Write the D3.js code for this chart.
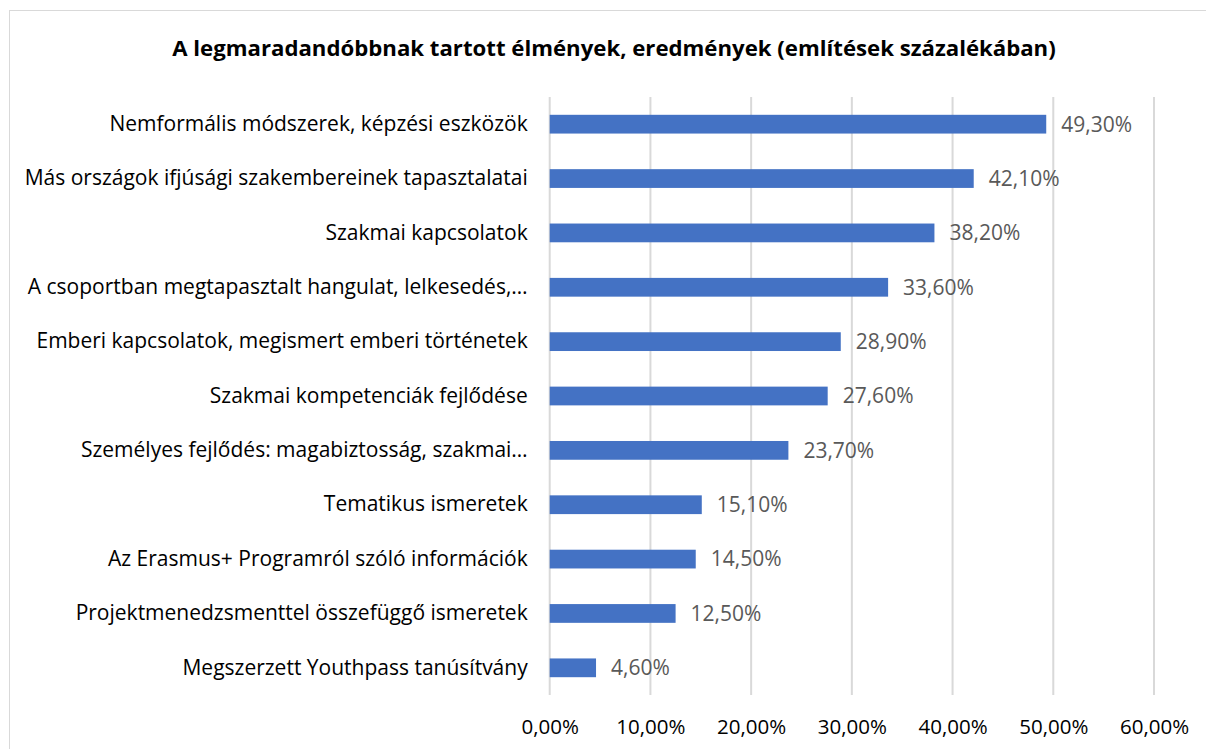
<!DOCTYPE html>
<html>
<head>
<meta charset="utf-8">
<script src="https://cdn.jsdelivr.net/npm/d3@7"></script>
<style>
  body { margin: 0; background: #fff; }
  text { font-family: "Open Sans", Lato, sans-serif; }
</style>
</head>
<body>
<svg width="1206" height="749"></svg>
<script>
const categories = [
  "Nemformális módszerek, képzési eszközök",
  "Más országok ifjúsági szakembereinek tapasztalatai",
  "Szakmai kapcsolatok",
  "A csoportban megtapasztalt hangulat, lelkesedés,…",
  "Emberi kapcsolatok, megismert emberi történetek",
  "Szakmai kompetenciák fejlődése",
  "Személyes fejlődés: magabiztosság, szakmai…",
  "Tematikus ismeretek",
  "Az Erasmus+ Programról szóló információk",
  "Projektmenedzsmenttel összefüggő ismeretek",
  "Megszerzett Youthpass tanúsítvány"
];
const values = [49.3, 42.1, 38.2, 33.6, 28.9, 27.6, 23.7, 15.1, 14.5, 12.5, 4.6];
const ticks = [0, 10, 20, 30, 40, 50, 60];
const title = "A legmaradandóbbnak tartott élmények, eredmények (említések százalékában)";

const fmt = v => v.toFixed(2).replace(".", ",") + "%";
const font = "'Open Sans', Lato, sans-serif";

const margin = { top: 97, right: 52, bottom: 54, left: 549.7 };
const width = 1206, height = 749;

const svg = d3.select("svg");

// chart frame
svg.append("rect")
  .attr("x", 9.5).attr("y", 10.5)
  .attr("width", 1220).attr("height", 760)
  .attr("fill", "none")
  .attr("stroke", "#d9d9d9");

const x = d3.scaleLinear()
  .domain([0, 60])
  .range([margin.left, width - margin.right]);

const y = d3.scaleBand()
  .domain(categories)
  .range([margin.top, height - margin.bottom])
  .paddingInner(0.655)
  .paddingOuter(0.3275);

// gridlines
svg.append("g")
  .selectAll("line")
  .data(ticks)
  .join("line")
  .attr("x1", d => x(d)).attr("x2", d => x(d))
  .attr("y1", margin.top).attr("y2", height - margin.bottom)
  .attr("stroke", "#d9d9d9")
  .attr("stroke-width", 2);

// x axis labels
const xAxis = g => g
  .attr("transform", `translate(0,${height - margin.bottom})`)
  .call(d3.axisBottom(x).tickValues(ticks).tickFormat(fmt).tickSize(0).tickPadding(24))
  .call(g => g.select(".domain").remove())
  .call(g => g.selectAll("text")
    .attr("font-size", 20.5)
    .attr("fill", "#000")
    .style("font-family", font));

svg.append("g").call(xAxis);

// y axis labels
const yAxis = g => g
  .attr("transform", `translate(${margin.left},0)`)
  .call(d3.axisLeft(y).tickSize(0).tickPadding(22))
  .call(g => g.select(".domain").remove())
  .call(g => g.selectAll("text")
    .attr("font-size", 21)
    .attr("fill", "#000")
    .style("font-family", font));

svg.append("g").call(yAxis);

// bars
svg.append("g")
  .selectAll("rect")
  .data(values)
  .join("rect")
  .attr("x", x(0))
  .attr("y", (d, i) => y(categories[i]))
  .attr("width", d => x(d) - x(0))
  .attr("height", y.bandwidth())
  .attr("fill", "#4472c4");

// value labels
svg.append("g")
  .selectAll("text")
  .data(values)
  .join("text")
  .attr("x", d => x(d) + 15)
  .attr("y", (d, i) => y(categories[i]) + y.bandwidth() / 2)
  .attr("dy", "0.35em")
  .attr("font-size", 21)
  .attr("fill", "#595959")
  .text(fmt);

// title
svg.append("text")
  .attr("x", 614)
  .attr("y", 56)
  .attr("text-anchor", "middle")
  .attr("font-size", 22.2)
  .attr("font-weight", "bold")
  .attr("fill", "#000")
  .text(title);
</script>
</body>
</html>
